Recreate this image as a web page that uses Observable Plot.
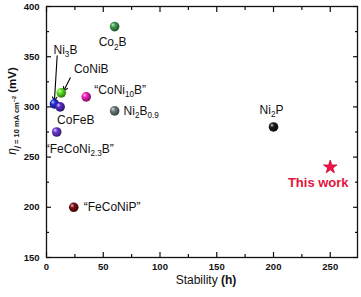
<!DOCTYPE html>
<html><head><meta charset="utf-8">
<script src="https://cdn.jsdelivr.net/npm/d3@7"></script>
<script src="https://cdn.jsdelivr.net/npm/@observablehq/plot@0.6"></script>
<style>body{margin:0;background:#fff}</style>
</head><body><div id="chart"></div>
<script>
// ---- data ----
const names = ["Co_{2}B", "CoNiB", "Ni_{3}B", "CoFeB", "“FeCoNi_{2.3}B”", "“CoNi_{10}B”", "Ni_{2}B_{0.9}", "Ni_{2}P", "“FeCoNiP”"];
const stability = [60, 13, 7, 12, 9, 35, 60, 200, 24];
const overpotential = [380, 314, 303, 300, 275, 310, 296, 280, 200];
const sphereColors = ["#3f9e4f", "#5ee61e", "#1e2fd0", "#5a2cc8", "#6f38d6", "#f41fc0", "#6e7b7b", "#1a1a1a", "#7d0f14"];
const thisWorkName = ["This work"];
const thisWorkStability = [250];
const thisWorkOverpotential = [240];
const xMajor = [0, 50, 100, 150, 200, 250];
const xMinor = [25, 75, 125, 175, 225];
const yMajor = [150, 200, 250, 300, 350, 400];
const yMinor = [175, 225, 275, 325, 375];
const xTitle = "Stability (h)";
const yTitle = "η j = 10 mA cm−2 (mV)";
// annotation arrows (data coords)
const arrowX1 = [9.4, 21], arrowY1 = [351, 329];
const arrowX2 = [7, 15.2], arrowY2 = [306, 316];
// label placement (px offsets)
const labelDx = [-2, 30, 11, -3, -11, 34, 9, -2, 10];
const labelDy = [16, -24, -54, 13, 17, -7, 0, -17, 0];
const labelStart = [false, false, false, true, true, false, true, false, true];

const idx = d3.range(names.length);
const font = "'Liberation Sans', Arial, sans-serif";
const tk = {label: null, tickFormat: () => "", strokeWidth: 1.2, stroke: "#111"};

const plot = Plot.plot({
  width: 361, height: 297,
  marginLeft: 46, marginRight: 4, marginTop: 6, marginBottom: 40,
  style: {fontFamily: font, background: "#fff"},
  x: {domain: [0, 274]},
  y: {domain: [150, 400]},
  color: {type: "identity"},
  marks: [
    // tick labels
    Plot.axisX({anchor: "bottom", ticks: xMajor, tickSize: 0, tickPadding: 6, fontWeight: "bold", fontSize: 9.5, fill: "#111", label: null}),
    Plot.axisY({anchor: "left", ticks: yMajor, tickSize: 0, tickPadding: 7, fontWeight: "bold", fontSize: 9.5, fill: "#111", label: null}),
    // inward ticks on all four sides
    Plot.axisX({...tk, anchor: "bottom", ticks: xMajor, tickSize: 5, dy: -5}),
    Plot.axisX({...tk, anchor: "bottom", ticks: xMinor, tickSize: 3, dy: -3}),
    Plot.axisX({...tk, anchor: "top", ticks: xMajor, tickSize: 5, dy: 5}),
    Plot.axisX({...tk, anchor: "top", ticks: xMinor, tickSize: 3, dy: 3}),
    Plot.axisY({...tk, anchor: "left", ticks: yMajor, tickSize: 5, dx: 5}),
    Plot.axisY({...tk, anchor: "left", ticks: yMinor, tickSize: 3, dx: 3}),
    Plot.axisY({...tk, anchor: "right", ticks: yMajor, tickSize: 5, dx: -5}),
    Plot.axisY({...tk, anchor: "right", ticks: yMinor, tickSize: 3, dx: -3}),
    Plot.frame({stroke: "#111", strokeWidth: 1.3}),
    Plot.arrow(d3.range(arrowX1.length), {x1: i => arrowX1[i], y1: i => arrowY1[i], x2: i => arrowX2[i], y2: i => arrowY2[i], stroke: "#000", strokeWidth: 1.1, headLength: 6}),
    Plot.dot(idx, {x: i => stability[i], y: i => overpotential[i], r: 4.8, fill: i => `url(#sph${i})`, stroke: null}),
    Plot.dot(thisWorkName, {x: (d, i) => thisWorkStability[i], y: (d, i) => thisWorkOverpotential[i], symbol: "star", r: 4.2, fill: "#f0134a", stroke: "#c80030", strokeWidth: 0.8}),
    Plot.text(idx, {filter: i => !labelStart[i], x: i => stability[i], y: i => overpotential[i], text: i => names[i], fontSize: 12, fill: "#111", textAnchor: "middle"}),
    Plot.text(idx, {filter: i => labelStart[i], x: i => stability[i], y: i => overpotential[i], text: i => names[i], fontSize: 12, fill: "#111", textAnchor: "start"}),
    Plot.text(thisWorkName, {x: (d, i) => thisWorkStability[i], y: (d, i) => thisWorkOverpotential[i], text: d => d, dx: -12, dy: 16, fontSize: 13, fontWeight: "bold", fill: "#e3143c"}),
    Plot.text([xTitle], {frameAnchor: "bottom", text: d => d, dx: 4, dy: 23, lineAnchor: "middle", textAnchor: "middle", fontSize: 12, fill: "#111"}),
    Plot.text([yTitle], {frameAnchor: "left", text: d => d, rotate: -90, dx: -34, dy: -21, textAnchor: "middle", lineAnchor: "middle", fontSize: 11.5, fill: "#111", fontWeight: "bold"})
  ]
});
document.getElementById("chart").appendChild(plot);

// gradients for the 3-D spheres
const defs = d3.select(plot).insert("defs", ":first-child");
sphereColors.forEach((c, i) => {
  const g = defs.append("radialGradient").attr("id", `sph${i}`).attr("cx", "0.4").attr("cy", "0.4").attr("r", "0.65").attr("fx", "0.32").attr("fy", "0.3");
  g.append("stop").attr("offset", "0").attr("stop-color", d3.interpolateRgb(c, "#fff")(0.75));
  g.append("stop").attr("offset", "0.35").attr("stop-color", c);
  g.append("stop").attr("offset", "1").attr("stop-color", d3.interpolateRgb(c, "#000")(0.55));
});

// rich text (subscripts) and per-label offsets
const svgNS = "http://www.w3.org/2000/svg";
function rich(el) {
  const s = el.textContent;
  if (!/[_^]\{/.test(s)) return;
  const fs = parseFloat(getComputedStyle(el).fontSize) || 12;
  el.textContent = "";
  const re = /([_^])\{([^}]*)\}/g;
  let last = 0, m, shift = 0;
  const add = (t, size, off) => {
    const ts = document.createElementNS(svgNS, "tspan");
    ts.textContent = t;
    if (size) ts.setAttribute("font-size", size);
    const d = off - shift;
    if (d) ts.setAttribute("dy", d);
    shift = off;
    el.appendChild(ts);
  };
  while ((m = re.exec(s))) {
    if (m.index > last) add(s.slice(last, m.index), null, 0);
    add(m[2], fs * 0.68, m[1] === "_" ? fs * 0.3 : -fs * 0.4);
    last = re.lastIndex;
  }
  if (last < s.length) add(s.slice(last), null, 0);
}
d3.select(plot).selectAll("text").each(function () {
  const s = this.textContent;
  const i = names.indexOf(s);
  if (i >= 0) {
    const t = this.getAttribute("transform") || "";
    const mm = /translate\(([-\d.]+),([-\d.]+)\)/.exec(t);
    if (mm) this.setAttribute("transform", `translate(${+mm[1] + labelDx[i]},${+mm[2] + labelDy[i]})`);
    rich(this);
  } else if (s === yTitle) {
    this.textContent = "";
    const parts = [
      ["η", 12, 0, "italic", "normal"],
      ["j", 7.5, 3, "italic", "bold"],
      [" = 10 mA cm", 7.5, 3, "normal", "bold"],
      ["−2", 5.5, -0.5, "normal", "bold"],
      [" (mV)", 11.5, 0, "normal", "bold"]
    ];
    let shift = 0;
    for (const [t, f, off, st, w] of parts) {
      const ts = document.createElementNS(svgNS, "tspan");
      ts.textContent = t;
      ts.setAttribute("font-size", f);
      ts.setAttribute("font-style", st);
      ts.setAttribute("font-weight", w);
      if (off - shift) ts.setAttribute("dy", off - shift);
      shift = off;
      this.appendChild(ts);
    }
  } else if (s === xTitle) {
    this.textContent = "";
    const a = document.createElementNS(svgNS, "tspan"); a.textContent = "Stability ";
    const b = document.createElementNS(svgNS, "tspan"); b.textContent = "(h)"; b.setAttribute("font-weight", "bold");
    this.appendChild(a); this.appendChild(b);
  }
});
</script>
</body></html>
